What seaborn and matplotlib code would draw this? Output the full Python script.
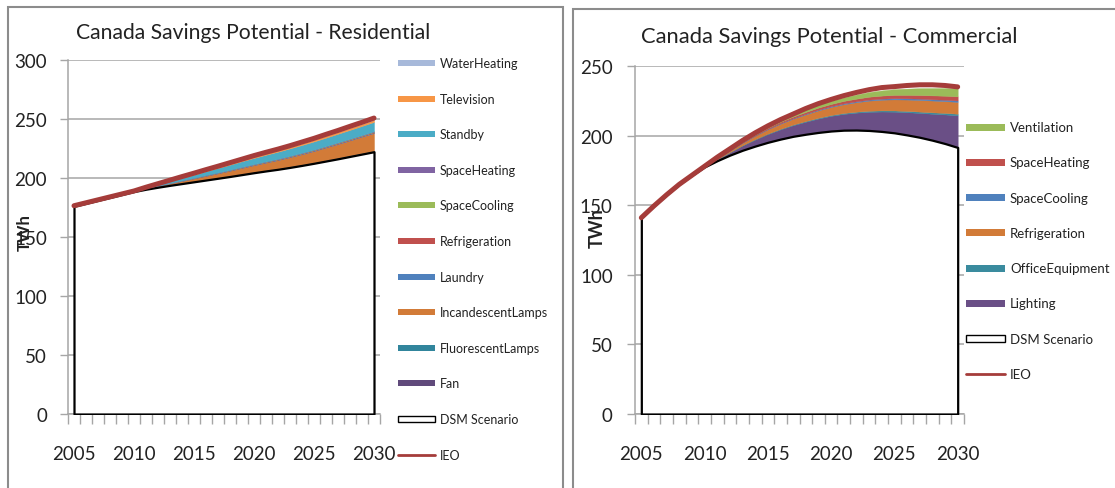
import numpy as np
import matplotlib
matplotlib.use("Agg")
import matplotlib.pyplot as plt
from matplotlib.patches import Rectangle
from matplotlib.lines import Line2D
import seaborn as sns

# ---------------- data ----------------
years = list(range(2005, 2031))
year_labels = ["2005", "2010", "2015", "2020", "2025", "2030"]

# Residential (TWh)
res_dsm = [176, 178.5, 181, 183.5, 186, 188.5, 190.5, 192.2, 193.8, 195.3, 196.8, 198.3, 199.8,
           201.3, 202.9, 204.5, 206, 207.4, 209, 210.7, 212.5, 214.4, 216.3, 218.3, 220.3, 222.3]
res_ieo = [176.5, 179, 181.5, 184, 186.5, 189, 192.2, 195.2, 198.2, 201.2, 204.1, 207.1, 210,
           213, 216, 219, 221.8, 224.5, 227.4, 230.5, 233.6, 237, 240.3, 243.8, 247.2, 250.8]
res_fan = [0, 0, 0, 0, 0, 0, .05, .1, .1, .15, .15, .2, .2, .2, .25, .25, .25, .3, .3, .3, .3, .35, .35, .35, .4, .4]
res_fluorescent = [0, 0, 0, 0, 0, 0, .05, .1, .15, .15, .2, .2, .25, .25, .25, .3, .3, .3, .35, .35, .35, .35, .4, .4, .4, .4]
res_incandescent = [0, 0, 0, 0, 0, 0, .3, .8, 1.3, 1.9, 2.5, 3.1, 3.7, 4.4, 5.1, 5.8, 6.5, 7.2, 8.0, 8.8, 9.7,
                    10.7, 11.7, 12.8, 13.9, 15.0]
res_laundry = [0, 0, 0, 0, 0, 0, .05, .1, .1, .15, .15, .2, .2, .25, .25, .25, .3, .3, .3, .35, .35, .35, .4, .4, .4, .45]
res_refrigeration = [0, 0, 0, 0, 0, 0, .05, .1, .15, .2, .2, .25, .25, .3, .3, .3, .35, .35, .35, .4, .4, .4, .45, .45, .45, .5]
res_spacecooling = [0, 0, 0, 0, 0, 0, .05, .05, .1, .1, .1, .15, .15, .15, .2, .2, .2, .2, .25, .25, .25, .25, .3, .3, .3, .3]
res_spaceheating = [0, 0, 0, 0, 0, 0, .05, .05, .1, .1, .1, .15, .15, .15, .2, .2, .2, .25, .25, .25, .25, .3, .3, .3, .3, .3]
res_standby = [0, 0, 0, 0, 0, 0, .3, .8, 1.4, 2.0, 2.6, 3.2, 3.8, 4.3, 4.8, 5.2, 5.6, 6.0, 6.3, 6.6, 6.9,
               7.1, 7.3, 7.5, 7.7, 7.9]
res_television = [0, 0, 0, 0, 0, 0, .1, .2, .3, .4, .5, .6, .7, .8, .9, 1.0, 1.1, 1.2, 1.3, 1.4, 1.5, 1.6, 1.6, 1.7, 1.7, 1.8]
res_waterheating = [0, 0, 0, 0, 0, 0, .05, .1, .1, .15, .2, .2, .25, .3, .3, .35, .4, .4, .45, .5, .55, .6, .65, .7, .75, .8]

# Commercial (TWh)
com_dsm = [141, 149.5, 157.5, 165, 171.5, 177.5, 182, 186, 189.5, 192.5, 195.2, 197.5, 199.5,
           201, 202.3, 203.3, 203.9, 204, 203.7, 203, 202, 200.5, 198.8, 196.7, 194.3, 191.5]
com_ieo = [141, 149.5, 157.5, 165, 171.5, 178, 184.5, 190.5, 196.5, 202, 207, 211.5, 215.5,
           219.5, 223, 226, 228.7, 231, 233, 234.5, 235.2, 236, 236.5, 236.5, 236, 235]
com_lighting = [0, 0, 0, 0, 0, 0, 1.0, 2.0, 3.4, 4.7, 5.9, 7.0, 8.0, 9.0, 10.0, 10.9, 11.7, 12.5, 13.4,
                14.3, 15.2, 16.3, 17.5, 19.0, 20.9, 23.0]
com_office = [0, 0, 0, 0, 0, 0, .1, .15, .2, .3, .35, .4, .45, .5, .55, .6, .65, .7, .75, .8, .85, .9, .95, 1.0, 1.1, 1.2]
com_refrigeration = [0, 0, 0, 0, 0, 0, .5, 1.0, 1.7, 2.4, 3.1, 3.7, 4.2, 4.8, 5.3, 5.8, 6.3, 6.8, 7.3, 7.7,
                     8.0, 8.2, 8.4, 8.5, 8.5, 8.5]
com_spacecooling = [0, 0, 0, 0, 0, 0, .1, .15, .2, .25, .3, .35, .4, .45, .5, .55, .6, .65, .7, .75, .8, .85, .9, .9, .95, 1.0]
com_spaceheating = [0, 0, 0, 0, 0, 0, .2, .3, .4, .6, .8, 1.0, 1.1, 1.3, 1.5, 1.6, 1.8, 1.9, 2.1, 2.2, 2.4,
                    2.5, 2.6, 2.8, 2.9, 3.0]
com_ventilation = [0, 0, 0, 0, 0, 0, .1, .2, .4, .6, .8, 1.0, 1.3, 1.6, 1.9, 2.2, 2.5, 2.9, 3.3, 3.7, 4.1,
                   4.5, 4.9, 5.2, 5.5, 5.8]

res_series = [  # bottom -> top
    ("Fan", res_fan, "#604A7B"),
    ("FluorescentLamps", res_fluorescent, "#31859C"),
    ("IncandescentLamps", res_incandescent, "#D27B38"),
    ("Laundry", res_laundry, "#4F81BD"),
    ("Refrigeration", res_refrigeration, "#C0504D"),
    ("SpaceCooling", res_spacecooling, "#9BBB59"),
    ("SpaceHeating", res_spaceheating, "#8064A2"),
    ("Standby", res_standby, "#4BACC6"),
    ("Television", res_television, "#F79646"),
    ("WaterHeating", res_waterheating, "#A7B9DA"),
]
com_series = [
    ("Lighting", com_lighting, "#6A4F86"),
    ("OfficeEquipment", com_office, "#3A8B9E"),
    ("Refrigeration", com_refrigeration, "#D27B38"),
    ("SpaceCooling", com_spacecooling, "#4F81BD"),
    ("SpaceHeating", com_spaceheating, "#C0504D"),
    ("Ventilation", com_ventilation, "#9BBB59"),
]
IEO_COLOR = "#A53C3A"

# ---------------- style ----------------
sns.set_style("white")
plt.rcParams["font.family"] = ["Lato", "DejaVu Sans"]
TXT = "#222222"
GRID = "#a6a6a6"

W, H = 1115, 489
fig = plt.figure(figsize=(W / 100, H / 100), dpi=100)


def fx(x):
    return x / W


def fy(y):
    return 1 - y / H


def axes_px(x0, x1, ytop, ybot):
    return fig.add_axes([fx(x0), fy(ybot), fx(x1) - fx(x0), (ybot - ytop) / H])


def draw_panel(ax, dsm, ieo, series, ymax, ypad):
    x = np.arange(len(years))
    base = np.array(dsm, dtype=float)
    for name, vals, color in series:
        top = base + np.array(vals, dtype=float)
        ax.fill_between(x, base, top, color=color, lw=0.3, edgecolor=color, zorder=2)
        base = top
    ax.fill_between(x, 0, dsm, facecolor="white", edgecolor="black", lw=1.6, zorder=3)
    sns.lineplot(x=x, y=ieo, ax=ax, color=IEO_COLOR, lw=3.6, zorder=4)
    ax.set_xlim(-0.5, len(years) - 0.5)
    ax.set_ylim(0, ymax)
    ax.set_yticks(np.arange(0, ymax + 1, 50))
    ax.set_axisbelow(True)
    ax.yaxis.grid(True, color=GRID, lw=1.1)
    ax.xaxis.grid(False)
    ax.set_xticks(np.arange(-0.5, len(years), 1.0))
    ax.set_xticklabels([])
    ax.set_xticks([years.index(int(l)) for l in year_labels], minor=True)
    ax.set_xticklabels(year_labels, minor=True)
    ax.tick_params(axis="x", which="major", length=7, color=GRID, width=1, direction="out", bottom=True)
    ax.tick_params(axis="x", which="minor", length=0, pad=22.5, labelsize=13.5, labelcolor=TXT)
    ax.tick_params(axis="y", length=6, color=GRID, width=1, direction="out", left=True,
                   pad=ypad, labelsize=13.5, labelcolor=TXT)
    for s in ("top", "right"):
        ax.spines[s].set_visible(False)
    for s in ("left", "bottom"):
        ax.spines[s].set_color(GRID)
        ax.spines[s].set_linewidth(1.1)
    ax.set_xlabel("")
    ax.set_ylabel("")


def legend_px(entries, x0, x1, xt, y0, dy, ph, fs):
    for i, (label, kind, color) in enumerate(entries):
        yc = y0 + i * dy
        if kind == "line":
            fig.add_artist(Line2D([fx(x0), fx(x1)], [fy(yc), fy(yc)], color=color, lw=2,
                                  transform=fig.transFigure))
        else:
            ec = "black" if kind == "box" else color
            fig.add_artist(Rectangle((fx(x0), fy(yc + ph / 2)), fx(x1) - fx(x0), ph / H,
                                     facecolor=color, edgecolor=ec, lw=1.0 if kind == "box" else 0,
                                     transform=fig.transFigure))
        fig.text(fx(xt), fy(yc), label, ha="left", va="center", fontsize=fs, color=TXT)


# panel borders
fig.add_artist(Rectangle((fx(8), fy(495)), fx(563) - fx(8), (495 - 8) / H, fill=False,
                         edgecolor="#8c8c8c", lw=1.5, transform=fig.transFigure))
fig.add_artist(Rectangle((fx(573), fy(495)), fx(1125) - fx(573), (495 - 10) / H, fill=False,
                         edgecolor="#8c8c8c", lw=1.5, transform=fig.transFigure))

ax1 = axes_px(68, 380, 61, 415)
draw_panel(ax1, res_dsm, res_ieo, res_series, 300, 9)
ax2 = axes_px(635, 964, 67, 415)
draw_panel(ax2, com_dsm, com_ieo, com_series, 250, 10)

t1 = fig.text(fx(253), fy(33), "Canada Savings Potential - Residential", ha="center", va="center",
              fontsize=17, color=TXT)
t2 = fig.text(fx(829), fy(37), "Canada Savings Potential - Commercial", ha="center", va="center",
              fontsize=17, color=TXT)
fig.canvas.draw()
r = fig.canvas.get_renderer()
for t, target in ((t1, 353), (t2, 376)):
    w = t.get_window_extent(r).width
    t.set_fontsize(t.get_fontsize() * target / w)

fig.text(fx(25), fy(233), "TWh", rotation=90, ha="center", va="center", fontsize=12,
         fontweight="bold", color=TXT)
fig.text(fx(597), fy(228), "TWh", rotation=90, ha="center", va="center", fontsize=13,
         fontweight="bold", color=TXT)

res_leg = [(n, "patch", c) for n, v, c in res_series[::-1]] + [("DSM Scenario", "box", "white"),
                                                              ("IEO", "line", IEO_COLOR)]
legend_px(res_leg, 398, 435, 440, 64, 35.6, 6, 9)
com_leg = [(n, "patch", c) for n, v, c in com_series[::-1]] + [("DSM Scenario", "box", "white"),
                                                              ("IEO", "line", IEO_COLOR)]
legend_px(com_leg, 966, 1005, 1010, 128, 35.3, 7, 9.5)

fig.savefig("out.png", dpi=100)
